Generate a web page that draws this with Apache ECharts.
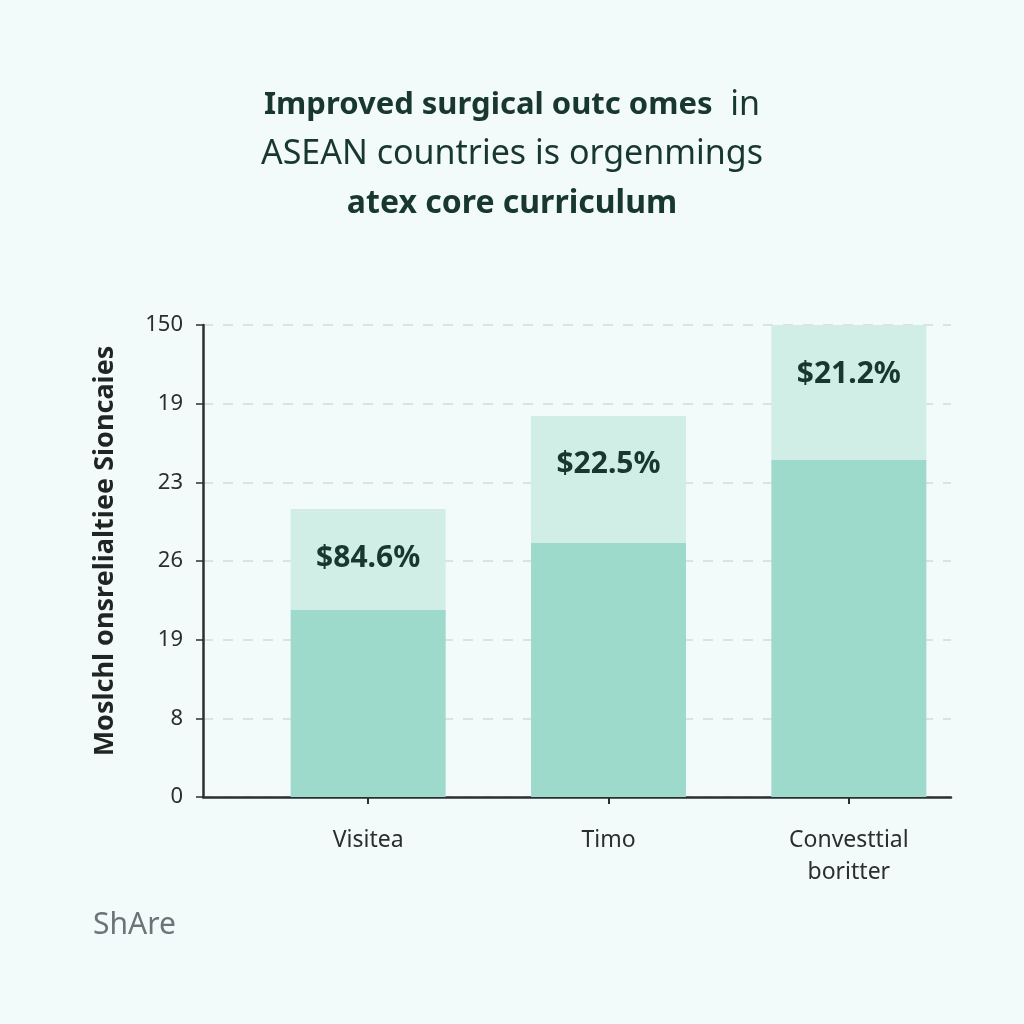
<!DOCTYPE html>
<html>
<head>
<meta charset="utf-8">
<script src="https://cdn.jsdelivr.net/npm/echarts@6/dist/echarts.min.js"></script>
<style>
html,body{margin:0;padding:0;background:#f2fbf9;}
#chart{width:1024px;height:1024px;}
</style>
</head>
<body>
<div id="chart"></div>
<script>
var categories = ['Visitea', 'Timo', 'Convesttial\nboritter'];
var baseValues = [59.4, 80.7, 107.1];
var topValues = [32.1, 40.4, 42.9];
var barLabels = ['$84.6%', '$22.5%', '$21.2%'];
var yTickLabels = ['0', '8', '19', '26', '23', '19', '150'];

var chart = echarts.init(document.getElementById('chart'));
var dark = '#17372f';
var font = '"Noto Sans", "Open Sans", sans-serif';

chart.setOption({
  backgroundColor: '#f2fbf9',
  animation: false,
  title: {
    left: 'center',
    top: 76,
    text: '{b|Improved surgical outc omes}{n|  in}\n{n|ASEAN countries is orgenmings}\n{c|atex core curriculum}',
    textStyle: {
      rich: {
        b: {fontFamily: font, fontSize: 31, fontWeight: 'bold', color: dark, lineHeight: 49},
        c: {fontFamily: font, fontSize: 32, fontWeight: 'bold', color: dark, lineHeight: 49},
        n: {fontFamily: font, fontSize: 34, fontWeight: 'normal', color: dark, lineHeight: 49}
      }
    }
  },
  graphic: [{
    type: 'text',
    left: 93,
    top: 910,
    style: {text: 'ShAre', fontFamily: font, fontSize: 30, fill: '#6b7478'}
  }],
  grid: [
    {left: 203, right: 73, top: 325, bottom: 227},
    {left: 248, right: 55, top: 325, bottom: 227}
  ],
  xAxis: [
    {
      gridIndex: 0, type: 'value', min: 0, max: 1,
      axisLine: {show: true, lineStyle: {color: '#2b302f', width: 2.5}},
      axisTick: {show: false}, axisLabel: {show: false}, splitLine: {show: false}
    },
    {
      gridIndex: 1, type: 'category', data: categories,
      axisLine: {show: false},
      axisTick: {show: true, alignWithLabel: true, length: 7, lineStyle: {color: '#2b302f', width: 2}},
      axisLabel: {fontFamily: font, fontSize: 23, color: '#2a2f2e', margin: 27, lineHeight: 32}
    }
  ],
  yAxis: [
    {
      gridIndex: 0, type: 'value', min: 0, max: 150, interval: 25,
      name: 'Moslchl onsrelialtiee Sioncaies',
      nameLocation: 'middle', nameGap: 84,
      nameTextStyle: {fontFamily: font, fontSize: 27, fontWeight: 'bold', color: '#1f2523', padding: [0, 0, 0, 20]},
      axisLine: {show: true, lineStyle: {color: '#2b302f', width: 2.5}},
      axisTick: {show: true, length: 7, lineStyle: {color: '#2b302f', width: 1.5}},
      axisLabel: {
        fontFamily: font, fontSize: 22, color: '#2a2f2e', margin: 20,
        formatter: function (v) { return yTickLabels[Math.round(v / 25)]; }
      },
      splitLine: {show: true, lineStyle: {color: '#d3dbd8', type: [10, 10], width: 1.5}}
    },
    {
      gridIndex: 1, type: 'value', min: 0, max: 150, show: false
    }
  ],
  series: [
    {
      type: 'bar', xAxisIndex: 1, yAxisIndex: 1, stack: 'a',
      data: baseValues, barWidth: 155,
      itemStyle: {color: '#9ddacb'}
    },
    {
      type: 'bar', xAxisIndex: 1, yAxisIndex: 1, stack: 'a',
      data: topValues, barWidth: 155,
      itemStyle: {color: '#d0eee6'},
      label: {
        show: true, position: 'insideTop', distance: 34,
        fontFamily: font, fontSize: 30, fontWeight: 'bold', color: dark,
        formatter: function (p) { return barLabels[p.dataIndex]; }
      }
    }
  ]
});
</script>
</body>
</html>
